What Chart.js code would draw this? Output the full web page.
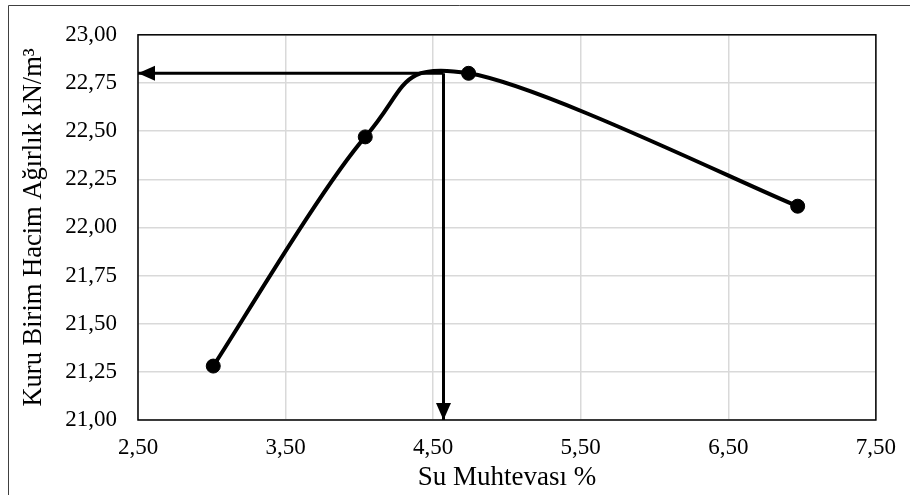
<!DOCTYPE html>
<html>
<head>
<meta charset="utf-8">
<script src="https://cdn.jsdelivr.net/npm/chart.js@4"></script>
<style>
  html, body { margin: 0; padding: 0; background: #fff; }
  #wrap { position: absolute; left: 0; top: 0; width: 910px; height: 495px; }
</style>
</head>
<body>
<div id="wrap"><canvas id="grafik" width="910" height="495"></canvas></div>
<script>
// Veriler
var suMuhtevasi = [3.01, 4.04, 4.74, 6.97];
var kuruBirimHacim = [21.28, 22.47, 22.80, 22.11];

// Optimum su muhtevasi ve maksimum kuru birim hacim agirlik (oklar)
var optimumSu = 4.57;
var maksKuru = 22.80;

// Eksen sinirlari ve etiketleri
var xMin = 2.5, xMax = 7.5;
var yMin = 21.0, yMax = 23.0;
var xEtiketler = [2.5, 3.5, 4.5, 5.5, 6.5, 7.5];
var yEtiketler = [21.0, 21.25, 21.5, 21.75, 22.0, 22.25, 22.5, 22.75, 23.0];

var noktalar = suMuhtevasi.map(function (x, i) { return { x: x, y: kuruBirimHacim[i] }; });

function virgul(v) { return Number(v).toFixed(2).replace(".", ","); }

// Arka plan ve dis cerceve
var cercevePlugin = {
  id: "cerceve",
  beforeDraw: function (chart) {
    var c = chart.ctx;
    c.save();
    c.fillStyle = "#fff";
    c.fillRect(0, 0, chart.width, chart.height);
    c.strokeStyle = "#404040";
    c.lineWidth = 1;
    c.beginPath();
    c.moveTo(8.5, chart.height);
    c.lineTo(8.5, 5.5);
    c.lineTo(chart.width, 5.5);
    c.stroke();
    c.restore();
  },
  beforeDatasetsDraw: function (chart) {
    var a = chart.chartArea, c = chart.ctx;
    c.save();
    c.strokeStyle = "#000";
    c.lineWidth = 1.5;
    c.strokeRect(a.left, a.top, a.right - a.left, a.bottom - a.top);
    c.restore();
  }
};

// Excel tarzi yumusatma: kontrol noktalari = P(i) -/+ (P(i+1) - P(i-1)) / 6
var yumusatPlugin = {
  id: "yumusat",
  beforeDatasetDraw: function (chart, args) {
    var ds = chart.data.datasets[args.index];
    if (!ds.excelYumusak) return;
    var meta = args.meta;
    meta.dataset.updateControlPoints(chart.chartArea, "x");
    var p = meta.data, n = p.length;
    for (var i = 0; i < n; i++) {
      var a = p[Math.max(i - 1, 0)], b = p[Math.min(i + 1, n - 1)];
      var dx = (b.x - a.x) / 6, dy = (b.y - a.y) / 6;
      p[i].cp1x = p[i].x - dx; p[i].cp1y = p[i].y - dy;
      p[i].cp2x = p[i].x + dx; p[i].cp2y = p[i].y + dy;
    }
    meta.dataset._path = undefined;
  }
};

// Ok uclari
var okPlugin = {
  id: "okucu",
  afterDatasetsDraw: function (chart) {
    var c = chart.ctx;
    chart.data.datasets.forEach(function (ds, i) {
      if (!ds.ok) return;
      var pts = chart.getDatasetMeta(i).data;
      var p1 = pts[pts.length - 2], p2 = pts[pts.length - 1];
      var ang = Math.atan2(p2.y - p1.y, p2.x - p1.x);
      var L = 17, W = 7.5;
      c.save();
      c.fillStyle = "#000";
      c.translate(p2.x, p2.y);
      c.rotate(ang);
      c.beginPath();
      c.moveTo(0, 0);
      c.lineTo(-L, -W);
      c.lineTo(-L, W);
      c.closePath();
      c.fill();
      c.restore();
    });
  }
};

var yazi = "'Liberation Serif', 'Times New Roman', serif";

var ctx = document.getElementById("grafik").getContext("2d");
var grafik = new Chart(ctx, {
  type: "scatter",
  data: {
    datasets: [
      {
        data: noktalar,
        showLine: true,
        tension: 0.4,
        excelYumusak: true,
        borderColor: "#000",
        borderWidth: 4,
        pointRadius: 7,
        pointBackgroundColor: "#000",
        pointBorderColor: "#000",
        pointBorderWidth: 1
      },
      {
        data: [{ x: optimumSu, y: maksKuru }, { x: xMin, y: maksKuru }],
        showLine: true,
        ok: true,
        borderColor: "#000",
        borderWidth: 3,
        pointRadius: 0
      },
      {
        data: [{ x: optimumSu, y: maksKuru }, { x: optimumSu, y: yMin }],
        showLine: true,
        ok: true,
        borderColor: "#000",
        borderWidth: 3,
        pointRadius: 0
      }
    ]
  },
  options: {
    responsive: false,
    animation: false,
    layout: { padding: { top: 33, right: 32, bottom: 0, left: 10 } },
    plugins: {
      legend: { display: false },
      tooltip: { enabled: false }
    },
    scales: {
      x: {
        type: "linear",
        min: xMin,
        max: xMax,
        afterBuildTicks: function (s) { s.ticks = xEtiketler.map(function (v) { return { value: v }; }); },
        afterFit: function (s) { s.height = 75; },
        grid: { color: "#d9d9d9", lineWidth: 1.5, drawTicks: false },
        border: { display: false },
        ticks: {
          color: "#000",
          padding: 14,
          maxRotation: 0,
          font: { family: yazi, size: 23 },
          callback: function (v) { return virgul(v); }
        },
        title: {
          display: true,
          text: "Su Muhtevası %",
          color: "#000",
          padding: { top: 0, bottom: 1 },
          font: { family: yazi, size: 27 }
        }
      },
      y: {
        type: "linear",
        min: yMin,
        max: yMax,
        afterBuildTicks: function (s) { s.ticks = yEtiketler.map(function (v) { return { value: v }; }); },
        afterFit: function (s) { s.width = 128; },
        grid: { color: "#d9d9d9", lineWidth: 1.5, drawTicks: false },
        border: { display: false },
        ticks: {
          color: "#000",
          padding: 21,
          font: { family: yazi, size: 23 },
          callback: function (v) { return virgul(v); }
        },
        title: {
          display: true,
          text: "Kuru Birim Hacim Ağırlık kN/m³",
          color: "#000",
          padding: { top: 8, bottom: 0 },
          font: { family: yazi, size: 26.5 }
        }
      }
    }
  },
  plugins: [cercevePlugin, yumusatPlugin, okPlugin]
});
</script>
</body>
</html>
